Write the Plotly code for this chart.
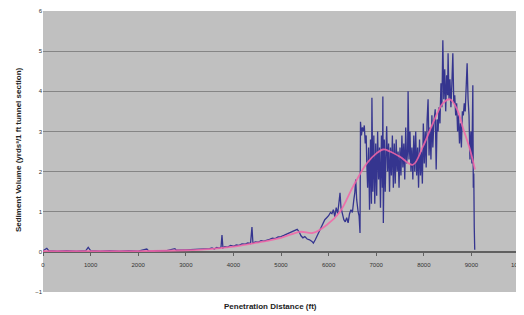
import plotly.graph_objects as go

# Measured sediment volume (blue) as (distance ft, volume) pairs
measured = [
    (0, 0.03), (80, 0.09), (120, 0.03), (300, 0.02), (500, 0.03), (700, 0.02),
    (900, 0.03), (950, 0.11), (1000, 0.03), (1200, 0.02), (1400, 0.03), (1600, 0.02),
    (1800, 0.03), (2000, 0.02), (2180, 0.07), (2220, 0.02), (2400, 0.03), (2600, 0.03),
    (2770, 0.08), (2800, 0.04), (3000, 0.05), (3200, 0.06), (3400, 0.07), (3500, 0.08),
    (3550, 0.10), (3600, 0.07), (3650, 0.11), (3700, 0.09), (3740, 0.12), (3760, 0.42),
    (3780, 0.10), (3820, 0.13), (3880, 0.12), (3940, 0.16), (4000, 0.14), (4060, 0.17),
    (4120, 0.16), (4180, 0.20), (4240, 0.19), (4300, 0.22), (4360, 0.21), (4390, 0.62),
    (4410, 0.22), (4460, 0.25), (4520, 0.24), (4580, 0.28), (4640, 0.27), (4700, 0.30),
    (4760, 0.31), (4820, 0.34), (4880, 0.33), (4940, 0.37), (5000, 0.38), (5060, 0.41),
    (5120, 0.44), (5190, 0.47), (5260, 0.50), (5300, 0.53), (5340, 0.56), (5380, 0.50),
    (5420, 0.40), (5460, 0.35), (5500, 0.38), (5550, 0.32), (5600, 0.30), (5650, 0.26),
    (5680, 0.22), (5720, 0.30), (5760, 0.42), (5800, 0.50), (5840, 0.60), (5880, 0.72),
    (5920, 0.80), (5960, 0.85), (6000, 0.90), (6040, 0.98), (6070, 0.95), (6100, 1.05),
    (6130, 0.88), (6160, 1.10), (6190, 0.95), (6220, 1.25), (6240, 1.47), (6260, 1.10),
    (6290, 0.90), (6320, 0.80), (6350, 0.75), (6380, 0.85), (6410, 0.72), (6440, 0.95),
    (6470, 1.05), (6500, 0.98), (6530, 1.30), (6550, 1.47), (6570, 1.80), (6590, 1.30),
    (6620, 1.00), (6640, 0.90), (6660, 0.47), (6670, 3.24), (6690, 2.90), (6710, 3.10),
    (6730, 3.00), (6750, 3.15), (6770, 2.70), (6790, 2.90), (6800, 2.30), (6820, 1.60),
    (6840, 2.60), (6860, 1.05), (6880, 2.80), (6900, 1.20), (6910, 3.84), (6930, 1.50),
    (6950, 2.90), (6970, 1.20), (6990, 2.70), (7010, 1.40), (7030, 3.00), (7050, 1.80),
    (7070, 2.60), (7090, 1.10), (7110, 2.90), (7130, 1.60), (7140, 3.87), (7150, 0.72),
    (7170, 2.80), (7190, 1.50), (7210, 2.70), (7220, 3.13), (7240, 2.00), (7260, 2.70),
    (7280, 1.50), (7300, 2.60), (7320, 1.90), (7340, 2.90), (7360, 1.60), (7380, 2.70),
    (7400, 1.70), (7420, 2.80), (7440, 2.00), (7460, 2.50), (7480, 1.60), (7500, 2.60),
    (7520, 1.90), (7540, 2.90), (7560, 2.10), (7580, 2.70), (7600, 1.80), (7620, 3.10),
    (7640, 2.20), (7660, 2.50), (7670, 4.00), (7690, 2.30), (7710, 3.00), (7730, 2.00),
    (7750, 2.60), (7770, 1.80), (7790, 2.90), (7810, 2.00), (7830, 3.00), (7850, 1.90),
    (7870, 2.60), (7890, 1.60), (7910, 2.80), (7930, 1.90), (7950, 2.50), (7970, 1.70),
    (7990, 3.20), (8010, 2.20), (8030, 3.00), (8050, 2.10), (8070, 3.30), (8090, 3.80),
    (8110, 2.40), (8130, 3.10), (8150, 2.30), (8170, 3.40), (8190, 2.60), (8210, 3.20),
    (8240, 3.55), (8260, 2.05), (8280, 3.30), (8300, 3.00), (8320, 3.60), (8340, 3.20),
    (8360, 4.20), (8380, 3.60), (8400, 5.27), (8420, 3.80), (8440, 4.55), (8460, 3.50),
    (8480, 4.40), (8500, 3.90), (8510, 4.95), (8530, 3.80), (8550, 4.30), (8570, 3.60),
    (8590, 4.20), (8610, 4.95), (8630, 3.70), (8650, 3.90), (8670, 3.40), (8690, 3.70),
    (8710, 3.00), (8730, 3.40), (8750, 2.70), (8770, 3.20), (8790, 2.60), (8810, 3.50),
    (8830, 3.40), (8850, 3.70), (8870, 3.50), (8890, 4.10), (8910, 4.70), (8930, 3.80),
    (8950, 3.40), (8970, 2.30), (8990, 3.00), (9010, 2.20), (9030, 4.15), (9040, 1.60),
    (9050, 1.95), (9060, 0.60), (9070, 0.05),
]

# Smoothed trend (pink)
trend_dist = [0, 1000, 2000, 3000, 3500, 4000, 4500, 5000, 5400, 5670, 5960, 6240,
              6510, 6800, 7010, 7150, 7290, 7500, 7770, 7980, 8190, 8400, 8550, 8700,
              8820, 8970, 9075]
trend_vol = [0.02, 0.02, 0.02, 0.04, 0.07, 0.13, 0.23, 0.35, 0.50, 0.47, 0.67, 1.00,
             1.62, 2.20, 2.46, 2.55, 2.50, 2.37, 2.17, 2.62, 3.20, 3.70, 3.80, 3.55,
             3.10, 2.55, 2.05]

x_ticks = [0, 1000, 2000, 3000, 4000, 5000, 6000, 7000, 8000, 9000]
x_last_tick = 10000
y_ticks = [-1, 0, 1, 2, 3, 4, 5, 6]

meas_dist = [p[0] for p in measured]
meas_vol = [p[1] for p in measured]

font_family = "Liberation Sans, Arial, sans-serif"

fig = go.Figure()
fig.add_trace(go.Scatter(x=meas_dist, y=meas_vol, mode="lines",
                         line=dict(color="#35358f", width=1.3), showlegend=False))
fig.add_trace(go.Scatter(x=trend_dist, y=trend_vol, mode="lines", line_shape="spline",
                         line=dict(color="#f465a8", width=1.8), opacity=0.85,
                         showlegend=False))

# page body has an 8px default margin, so the figure is sized to compensate
fig.update_layout(
    width=516, height=307,
    margin=dict(l=35, r=5, t=3, b=23, autoexpand=False),
    paper_bgcolor="white", plot_bgcolor="#c0c0c0",
    font=dict(family=font_family, size=6, color="#333333"),
    xaxis=dict(range=[0, 10000], tickvals=x_ticks + [x_last_tick],
               ticktext=[str(v) for v in x_ticks] + [""],
               showgrid=False, zeroline=False, anchor="free", position=1/7,
               showline=True, linecolor="#606060", linewidth=1,
               ticks="outside", ticklen=3, tickcolor="#606060",
               ticklabelstandoff=4, automargin=False,
               tickfont=dict(size=6, color="#333333")),
    yaxis=dict(range=[-1, 6], tickvals=y_ticks, showgrid=True, gridcolor="#858585",
               gridwidth=1, zeroline=True, zerolinecolor="#606060", zerolinewidth=1,
               ticks="", automargin=False, tickfont=dict(size=6, color="#333333")),
    annotations=[
        dict(text=str(x_last_tick), xref="x", yref="paper", x=x_last_tick, y=1/7,
             yshift=-13, showarrow=False, font=dict(size=6, color="#333333"),
             xanchor="center", yanchor="middle"),
        dict(text="<b>Penetration Distance (ft)</b>", xref="paper", yref="paper",
             x=0.477, y=-0.053, showarrow=False, font=dict(size=8, color="#222222"),
             xanchor="center", yanchor="middle"),
        dict(text="<b>Sediment Volume (yrds³/1 ft tunnel section)</b>", xref="paper",
             yref="paper", x=-0.0525, y=0.505, textangle=-90, showarrow=False,
             font=dict(size=8, color="#222222"), xanchor="center", yanchor="middle"),
    ],
)

fig.write_html("out.html")
